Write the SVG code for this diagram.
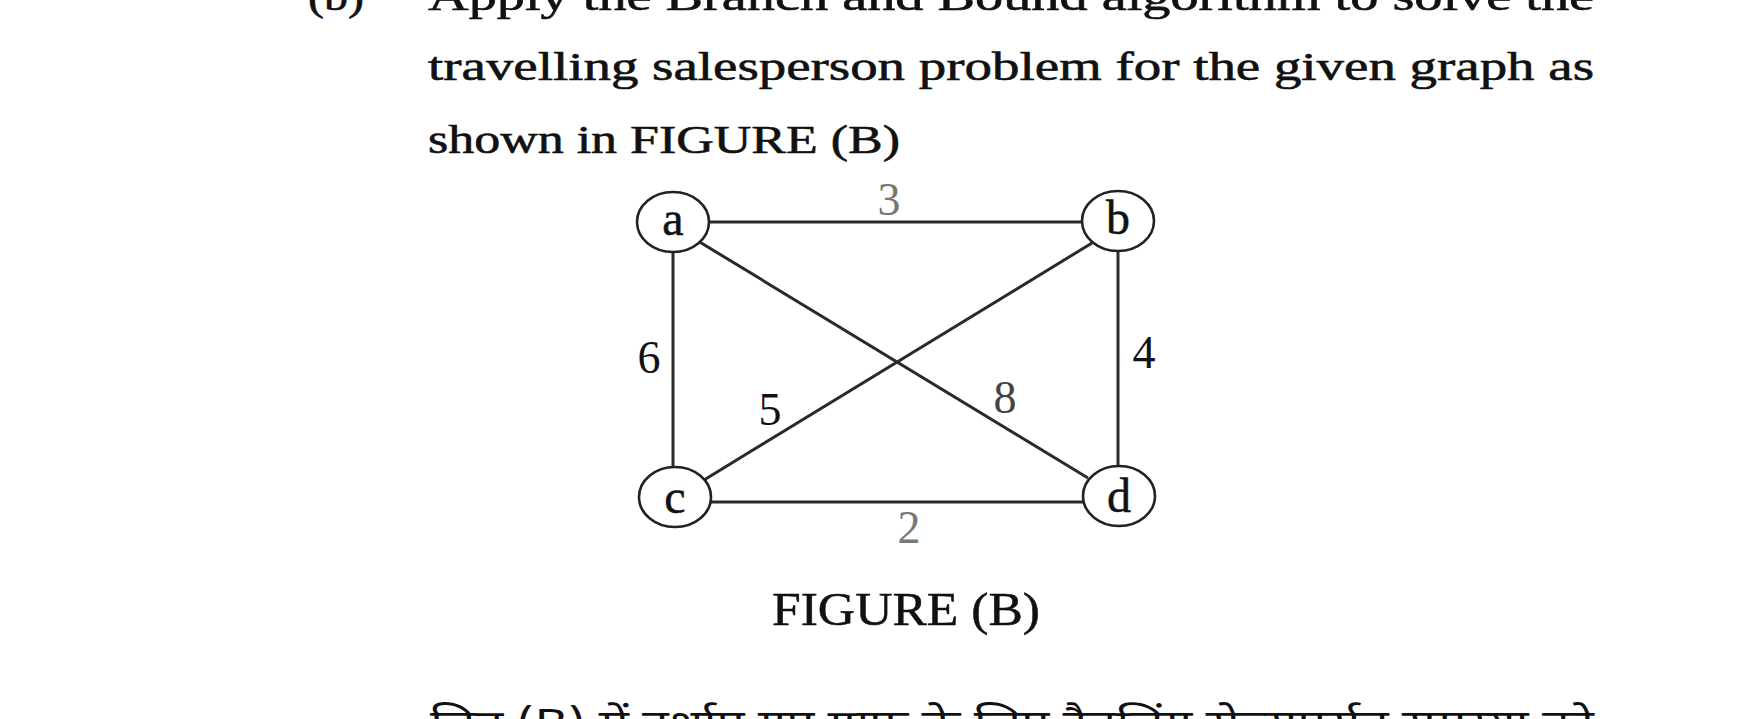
<svg xmlns="http://www.w3.org/2000/svg" width="1754" height="719" viewBox="0 0 1754 719">
<style>
  .body { font-family: "Liberation Serif", "Times New Roman", serif; font-size: 41px; fill: #111; stroke: #111; stroke-width: 0.6; }
  .cap { font-family: "Liberation Serif", "Times New Roman", serif; font-size: 46px; fill: #111; stroke: #111; stroke-width: 0.5; }
  .hin { font-family: "Noto Sans Devanagari", "Noto Sans", "Lohit Devanagari", sans-serif; font-size: 40px; fill: #111; }
  .node ellipse { fill: #fff; stroke: #222; stroke-width: 2.6; }
  .node text { font-family: "Liberation Serif", "Times New Roman", serif; font-size: 48px; fill: #111; stroke: #111; stroke-width: 0.5; text-anchor: middle; }
  .edge { stroke: #2a2a2a; stroke-width: 3; fill: none; }
  .wt { font-family: "Liberation Serif", "Times New Roman", serif; font-size: 46px; text-anchor: middle; fill: #111; }
</style>
<rect width="1754" height="719" fill="#fff"/>
<g id="text">
  <text class="body" x="308" y="10" textLength="56" lengthAdjust="spacingAndGlyphs">(b)</text>
  <text class="body" x="428" y="10" textLength="1166" lengthAdjust="spacingAndGlyphs">Apply the Branch and Bound algorithm to solve the</text>
  <text class="body" x="428" y="80" textLength="1166" lengthAdjust="spacingAndGlyphs">travelling salesperson problem for the given graph as</text>
  <text class="body" x="428" y="153" textLength="472" lengthAdjust="spacingAndGlyphs">shown in FIGURE (B)</text>
  <text class="cap" x="772" y="625" textLength="268" lengthAdjust="spacingAndGlyphs">FIGURE (B)</text>
  <text class="hin" x="430" y="738" textLength="1164" lengthAdjust="spacingAndGlyphs">चित्र (B) में दर्शाए गए ग्राफ के लिए ट्रैवलिंग सेल्सपर्सन समस्या को</text>
</g>
<g id="edges">
  <line class="edge" x1="709" y1="222" x2="1082" y2="222"/>
  <line class="edge" x1="673" y1="252" x2="673" y2="467"/>
  <line class="edge" x1="1118" y1="251" x2="1118" y2="466"/>
  <line class="edge" x1="711" y1="502" x2="1083" y2="502"/>
  <line class="edge" x1="698" y1="241" x2="1088" y2="478"/>
  <line class="edge" x1="704" y1="480" x2="1092" y2="243"/>
  <text class="wt" x="889" y="215" style="fill:#777">3</text>
  <text class="wt" x="649" y="373">6</text>
  <text class="wt" x="1144" y="368">4</text>
  <text class="wt" x="770" y="425">5</text>
  <text class="wt" x="1005" y="413" style="fill:#444">8</text>
  <text class="wt" x="909" y="543" style="fill:#777">2</text>
</g>
<g id="node-a" class="node">
  <ellipse cx="673" cy="222" rx="36" ry="30"/>
  <text x="673" y="235">a</text>
</g>
<g id="node-b" class="node">
  <ellipse cx="1118" cy="221" rx="36" ry="30"/>
  <text x="1118" y="234">b</text>
</g>
<g id="node-c" class="node">
  <ellipse cx="675" cy="497" rx="36" ry="30"/>
  <text x="675" y="513">c</text>
</g>
<g id="node-d" class="node">
  <ellipse cx="1119" cy="496" rx="36" ry="30"/>
  <text x="1119" y="512">d</text>
</g>
</svg>
